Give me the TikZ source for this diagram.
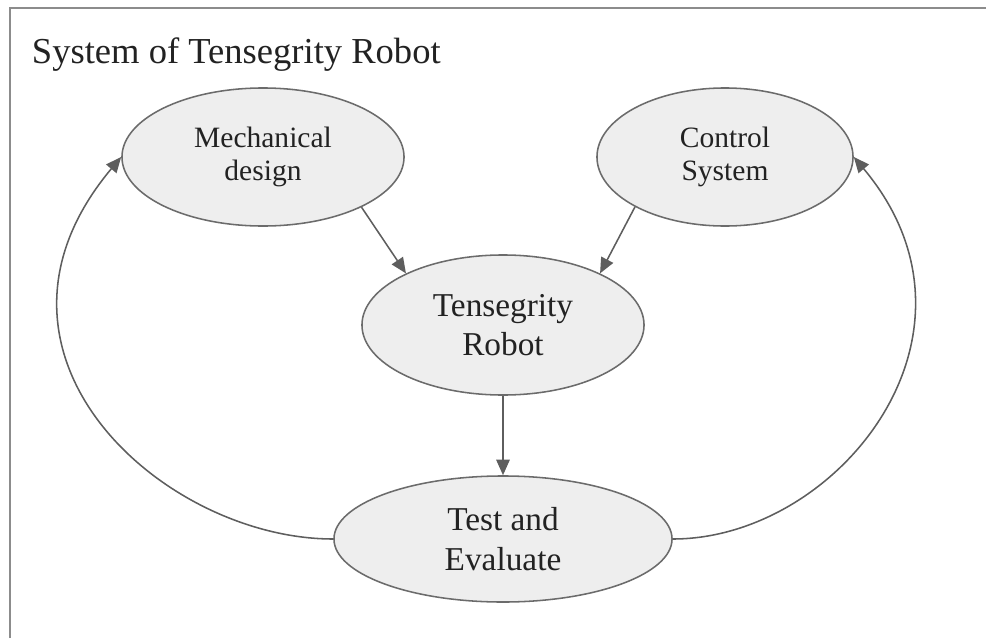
\documentclass[tikz,border=0pt]{standalone}
\usepackage{fontspec}
\setmainfont{Liberation Serif}
\usetikzlibrary{arrows.meta, shapes.geometric}
\definecolor{BubbleFill}{HTML}{EEEEEE}
\definecolor{BubbleLine}{HTML}{6B6B6B}
\definecolor{LinkGray}{HTML}{5E5E5E}
\definecolor{FrameGray}{HTML}{8C8C8C}
\definecolor{InkDark}{HTML}{222222}

\begin{document}
\begin{tikzpicture}[x=0.025cm, y=-0.025cm,
    bubble/.style={ellipse, draw=BubbleLine, line width=1.1pt, fill=BubbleFill,
                   text=InkDark, align=center, inner sep=0pt},
    link/.style={draw=LinkGray, line width=1.1pt,
                 -{Triangle[length=11pt, width=9.5pt]}}]

\useasboundingbox (0,0) rectangle (986,638);

% marco (solo borde superior e izquierdo)
\draw[FrameGray, line width=1.3pt] (10,638) -- (10,8) -- (986,8);

\node[anchor=base west, text=InkDark, font=\fontsize{26}{30}\selectfont] (title) at (27,63)
    {System of Tensegrity Robot};

% ================= NODOS =================
\node[bubble, minimum width=7.05cm, minimum height=3.45cm,
      font=\fontsize{21}{24}\selectfont] (mech) at (263,157) {Mechanical\\design};
\node[bubble, minimum width=6.4cm, minimum height=3.45cm,
      font=\fontsize{21}{24}\selectfont] (ctrl) at (725,157) {Control\\System};
\node[bubble, minimum width=7.05cm, minimum height=3.5cm,
      font=\fontsize{23.7}{28}\selectfont] (robot) at (503,325) {Tensegrity\\Robot};
\node[bubble, minimum width=8.45cm, minimum height=3.15cm,
      font=\fontsize{23.7}{28.5}\selectfont] (test) at (503,539) {Test and\\Evaluate};

% ================= CONEXIONES =================
\draw[link] (mech.-27) -- (robot.152);
\draw[link] (ctrl.-151) -- (robot.28);
\draw[link] (robot) -- (test);

% lazos de realimentacion
\draw[link] (test.west) to[out=180, in=-130, out looseness=1.0, in looseness=1.5] (mech.west);
\draw[link] (test.east) to[out=0, in=-50, out looseness=1.0, in looseness=1.4] (ctrl.east);

\end{tikzpicture}
\end{document}
